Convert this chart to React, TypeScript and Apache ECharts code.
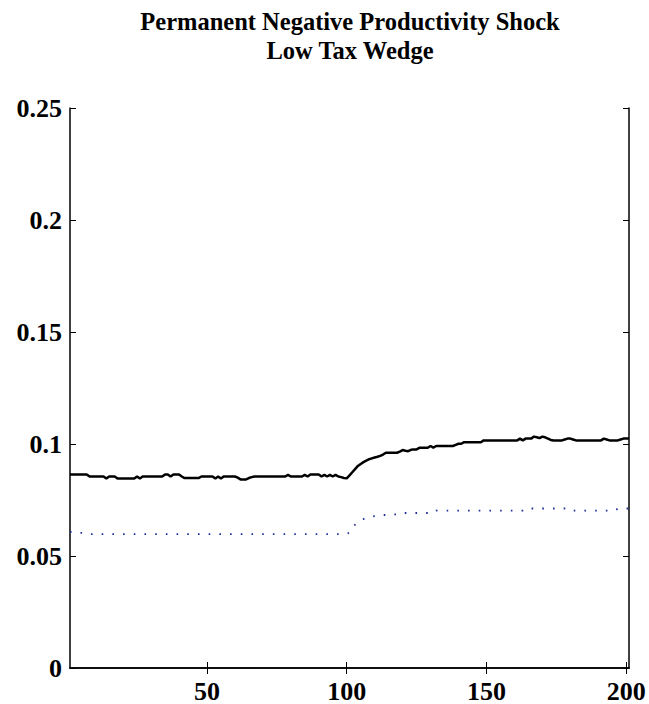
import React, { useEffect, useRef } from "react";
import * as echarts from "echarts";

// Periods 1..201 of the simulation
const periodCount = 201;

// Solid black line, one value per period
const solidSeries: number[] = [
  0.0864, 0.0864, 0.0864, 0.0864, 0.0864, 0.0864, 0.0864, 0.0855, 0.0855, 0.0855,
  0.0855, 0.0855, 0.0855, 0.0846, 0.0855, 0.0855, 0.0855, 0.0846, 0.0846, 0.0846,
  0.0846, 0.0846, 0.0846, 0.0846, 0.0855, 0.0846, 0.0855, 0.0855, 0.0855, 0.0855,
  0.0855, 0.0855, 0.0855, 0.0855, 0.0864, 0.0864, 0.0855, 0.0864, 0.0864, 0.0864,
  0.0855, 0.0848, 0.0848, 0.0848, 0.0848, 0.0848, 0.0848, 0.0855, 0.0855, 0.0855,
  0.0855, 0.0855, 0.0846, 0.0855, 0.0846, 0.0855, 0.0855, 0.0855, 0.0855, 0.0855,
  0.0850, 0.0842, 0.0842, 0.0842, 0.0848, 0.0852, 0.0855, 0.0855, 0.0855, 0.0855,
  0.0855, 0.0855, 0.0855, 0.0855, 0.0855, 0.0855, 0.0855, 0.0855, 0.0862, 0.0855,
  0.0855, 0.0855, 0.0855, 0.0855, 0.0862, 0.0855, 0.0864, 0.0864, 0.0864, 0.0864,
  0.0855, 0.0862, 0.0855, 0.0862, 0.0855, 0.0862, 0.0855, 0.0852, 0.0848, 0.0847,
  0.0860, 0.0874, 0.0888, 0.0902, 0.0911, 0.0919, 0.0926, 0.0932, 0.0936, 0.0940,
  0.0943, 0.0947, 0.0953, 0.0961, 0.0961, 0.0961, 0.0961, 0.0961, 0.0966, 0.0973,
  0.0970, 0.0968, 0.0974, 0.0976, 0.0976, 0.0983, 0.0983, 0.0983, 0.0983, 0.0991,
  0.0984, 0.0991, 0.0991, 0.0991, 0.0991, 0.0991, 0.0991, 0.0991, 0.0996, 0.1001,
  0.1001, 0.1008, 0.1008, 0.1008, 0.1008, 0.1008, 0.1008, 0.1008, 0.1016, 0.1016,
  0.1016, 0.1016, 0.1016, 0.1016, 0.1016, 0.1016, 0.1016, 0.1016, 0.1016, 0.1016,
  0.1016, 0.1024, 0.1016, 0.1024, 0.1024, 0.1024, 0.1033, 0.1030, 0.1026, 0.1033,
  0.1030, 0.1024, 0.1018, 0.1016, 0.1016, 0.1016, 0.1016, 0.1020, 0.1024, 0.1024,
  0.1020, 0.1016, 0.1016, 0.1016, 0.1016, 0.1016, 0.1016, 0.1016, 0.1016, 0.1016,
  0.1016, 0.1024, 0.1020, 0.1016, 0.1016, 0.1016, 0.1016, 0.1020, 0.1024, 0.1024,
  0.1024,
];

// Dotted blue line, one value per period
const dottedSeries: number[] = [
  0.0608, 0.0608, 0.0608, 0.0603, 0.0603, 0.0603, 0.0598, 0.0598, 0.0598, 0.0598,
  0.0598, 0.0598, 0.0598, 0.0598, 0.0598, 0.0598, 0.0598, 0.0598, 0.0598, 0.0598,
  0.0598, 0.0598, 0.0598, 0.0598, 0.0598, 0.0598, 0.0598, 0.0598, 0.0598, 0.0598,
  0.0598, 0.0598, 0.0598, 0.0598, 0.0598, 0.0598, 0.0598, 0.0598, 0.0598, 0.0598,
  0.0598, 0.0598, 0.0598, 0.0598, 0.0598, 0.0598, 0.0598, 0.0598, 0.0598, 0.0598,
  0.0598, 0.0598, 0.0598, 0.0598, 0.0598, 0.0598, 0.0598, 0.0598, 0.0598, 0.0598,
  0.0598, 0.0598, 0.0598, 0.0598, 0.0598, 0.0598, 0.0598, 0.0598, 0.0598, 0.0598,
  0.0598, 0.0598, 0.0598, 0.0598, 0.0598, 0.0598, 0.0598, 0.0598, 0.0598, 0.0598,
  0.0598, 0.0598, 0.0598, 0.0598, 0.0598, 0.0598, 0.0598, 0.0598, 0.0598, 0.0598,
  0.0598, 0.0598, 0.0598, 0.0598, 0.0598, 0.0598, 0.0598, 0.0598, 0.0598, 0.0598,
  0.0605, 0.0625, 0.0640, 0.0652, 0.0660, 0.0665, 0.0670, 0.0674, 0.0676, 0.0678,
  0.0679, 0.0680, 0.0683, 0.0683, 0.0683, 0.0686, 0.0686, 0.0686, 0.0692, 0.0692,
  0.0692, 0.0692, 0.0692, 0.0692, 0.0692, 0.0692, 0.0692, 0.0692, 0.0692, 0.0692,
  0.0692, 0.0703, 0.0703, 0.0703, 0.0703, 0.0703, 0.0703, 0.0703, 0.0703, 0.0703,
  0.0703, 0.0703, 0.0703, 0.0703, 0.0703, 0.0703, 0.0703, 0.0703, 0.0703, 0.0703,
  0.0703, 0.0703, 0.0703, 0.0703, 0.0703, 0.0703, 0.0703, 0.0703, 0.0703, 0.0703,
  0.0703, 0.0703, 0.0703, 0.0712, 0.0712, 0.0712, 0.0712, 0.0712, 0.0712, 0.0712,
  0.0712, 0.0712, 0.0712, 0.0712, 0.0712, 0.0712, 0.0712, 0.0712, 0.0703, 0.0703,
  0.0703, 0.0703, 0.0703, 0.0703, 0.0703, 0.0703, 0.0703, 0.0703, 0.0703, 0.0703,
  0.0703, 0.0703, 0.0703, 0.0703, 0.0703, 0.0703, 0.0712, 0.0712, 0.0712, 0.0712,
  0.0712,
];

const xTicks = [50, 100, 150, 200];
const titleLines = ["Permanent Negative Productivity Shock", "Low Tax Wedge"];

const FONT = '"Liberation Serif", "Times New Roman", serif';

export default function App() {
  const ref = useRef<HTMLDivElement>(null);

  useEffect(() => {
    if (!ref.current) return;
    const chart = echarts.init(ref.current, undefined, { renderer: "svg" });

    const toPairs = (vals: number[]) =>
      vals.slice(0, periodCount).map((v, i) => [i + 1, v]);

    const axisLine = { show: true, lineStyle: { color: "#000", width: 1.5 } };
    const tick = {
      show: true,
      inside: true,
      length: 6,
      lineStyle: { color: "#000", width: 1 },
    };
    const labelStyle = {
      color: "#000",
      fontFamily: FONT,
      fontWeight: "bold" as const,
      fontSize: 26,
    };

    chart.setOption({
      animation: false,
      backgroundColor: "#fff",
      grid: { left: 70, right: 20, top: 108, bottom: 36, containLabel: false },
      graphic: [
        {
          type: "text",
          x: 350,
          y: 21,
          style: {
            text: titleLines[0],
            font: `bold 24.5px ${FONT}`,
            fill: "#000",
            textAlign: "center",
            textVerticalAlign: "middle",
          },
        },
        {
          type: "text",
          x: 350,
          y: 50,
          style: {
            text: titleLines[1],
            font: `bold 24.5px ${FONT}`,
            fill: "#000",
            textAlign: "center",
            textVerticalAlign: "middle",
          },
        },
      ],
      xAxis: [
        {
          type: "value",
          position: "bottom",
          min: 1,
          max: 201,
          axisLine,
          splitLine: { show: false },
          axisTick: { ...tick, customValues: xTicks },
          axisLabel: { ...labelStyle, margin: 10, customValues: xTicks },
        },
        {
          type: "value",
          position: "top",
          min: 1,
          max: 201,
          axisLine,
          splitLine: { show: false },
          axisTick: { ...tick, customValues: xTicks },
          axisLabel: { show: false },
        },
      ],
      yAxis: [
        {
          type: "value",
          position: "left",
          min: 0,
          max: 0.25,
          interval: 0.05,
          axisLine,
          splitLine: { show: false },
          axisTick: tick,
          axisLabel: { ...labelStyle, margin: 8 },
        },
        {
          type: "value",
          position: "right",
          min: 0,
          max: 0.25,
          interval: 0.05,
          axisLine,
          splitLine: { show: false },
          axisTick: tick,
          axisLabel: { show: false },
        },
      ],
      series: [
        {
          type: "line",
          xAxisIndex: 0,
          yAxisIndex: 0,
          data: toPairs(solidSeries),
          showSymbol: false,
          symbol: "none",
          lineStyle: { color: "#000", width: 2.5, type: "solid" },
        },
        {
          type: "line",
          xAxisIndex: 0,
          yAxisIndex: 0,
          data: toPairs(dottedSeries),
          showSymbol: false,
          symbol: "none",
          lineStyle: { color: "#1f2b9a", width: 1.8, type: [1.6, 9.1] },
        },
      ],
    });

    return () => chart.dispose();
  }, []);

  return (
    <div
      ref={ref}
      style={{ position: "absolute", left: 0, top: 0, width: 649, height: 704 }}
    />
  );
}
